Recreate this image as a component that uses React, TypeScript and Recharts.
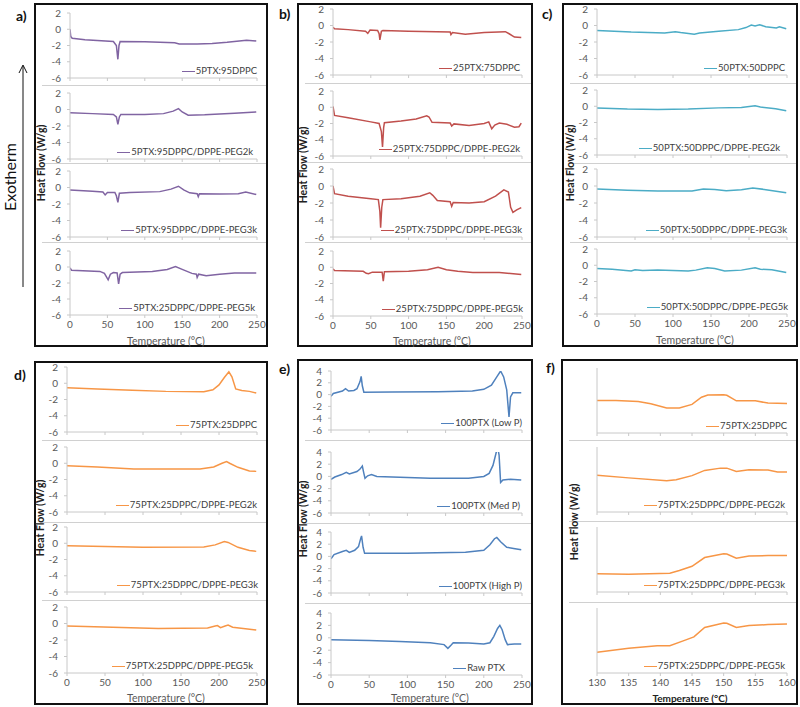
import React from 'react';
import { LineChart, Line, XAxis, YAxis } from 'recharts';

type Pt = [number, number];

// ---- panel a : 5PTX ----
const a1: Pt[] = [[0,0],[1,-0.9],[3,-1.1],[20,-1.3],[58,-1.5],[62,-2],[64,-3.7],[65.5,-2],[67,-1.5],[100,-1.55],[140,-1.65],[146,-1.8],[170,-1.8],[190,-1.75],[210,-1.6],[236,-1.35],[249,-1.45]];
const a2: Pt[] = [[0,-0.4],[30,-0.5],[58,-0.6],[62,-0.9],[64,-1.8],[66,-0.9],[68,-0.6],[100,-0.6],[125,-0.5],[138,-0.2],[145,0.1],[150,-0.3],[158,-0.7],[180,-0.65],[220,-0.45],[249,-0.3]];
const a3: Pt[] = [[0,-0.3],[30,-0.45],[44,-0.55],[47,-0.9],[50,-0.6],[60,-0.6],[62,-1],[64,-1.8],[66,-0.7],[80,-0.6],[120,-0.5],[135,-0.2],[145,0.15],[152,-0.3],[160,-0.65],[170,-0.75],[171.5,-1.1],[173,-0.75],[200,-0.8],[225,-0.75],[235,-0.55],[249,-0.85]];
const a4: Pt[] = [[0,-0.1],[2,-0.4],[40,-0.55],[46,-0.8],[51,-1.6],[54,-0.9],[58,-0.7],[63,-0.75],[65,-2.1],[67,-0.9],[70,-0.7],[110,-0.55],[130,-0.3],[141,0.05],[150,-0.3],[163,-0.8],[169,-0.9],[170,-1.3],[172,-0.9],[182,-1.1],[200,-0.9],[220,-0.75],[249,-0.75]];
const legendA = ['5PTX:95DPPC', '5PTX:95DPPC/DPPE-PEG2k', '5PTX:95DPPC/DPPE-PEG3k', '5PTX:25DPPC/DPPE-PEG5k'];

// ---- panel b : 25PTX ----
const b1: Pt[] = [[0,-0.2],[2,-0.4],[20,-0.5],[43,-0.7],[46,-0.95],[49,-0.55],[59,-0.6],[61,-1],[62,-1.75],[64,-0.7],[66,-0.6],[100,-0.7],[155,-0.8],[156,-1.1],[158,-0.85],[175,-1.05],[200,-0.85],[228,-0.75],[233,-1],[240,-1.4],[249,-1.45]];
const b2: Pt[] = [[0,0.1],[2,-1],[20,-1.3],[50,-1.8],[61,-2],[64,-3],[65.5,-4.9],[67,-2.5],[68,-1.9],[90,-1.7],[110,-1.45],[124,-1.05],[127,-1.2],[131,-1.85],[155,-1.95],[157,-2.3],[160,-2.05],[180,-2.25],[200,-2.0],[206,-1.8],[210,-2.65],[214,-2.2],[220,-1.95],[230,-2.1],[240,-2.45],[246,-2.4],[249,-1.95]];
const b3: Pt[] = [[0,0],[2,-0.9],[20,-1.2],[50,-1.5],[60,-1.6],[62,-3],[63,-4.9],[64.5,-2.5],[66,-1.6],[90,-1.5],[115,-1.2],[128,-0.8],[132,-1.1],[138,-1.7],[155,-1.85],[157,-2.4],[159,-1.95],[180,-2.0],[200,-1.85],[215,-1.2],[226,-0.45],[232,-0.7],[235,-2.5],[238,-3.1],[243,-2.8],[249,-2.55]];
const b4: Pt[] = [[0,-0.2],[2,-0.4],[40,-0.5],[44,-0.75],[47,-0.8],[52,-0.6],[65,-0.6],[66.5,-1.7],[68,-0.55],[100,-0.5],[125,-0.3],[139,0],[150,-0.3],[165,-0.5],[185,-0.65],[220,-0.65],[249,-0.9]];
const legendB = ['25PTX:75DPPC', '25PTX:75DPPC/DPPE-PEG2k', '25PTX:75DPPC/DPPE-PEG3k', '25PTX:75DPPC/DPPE-PEG5k'];

// ---- panel c : 50PTX ----
const c1: Pt[] = [[0,-0.6],[45,-0.8],[89,-0.9],[103,-0.75],[110,-0.85],[128,-1.05],[135,-0.9],[160,-0.7],[186,-0.5],[196,-0.25],[203,0.05],[208,-0.05],[214,0.1],[222,-0.15],[236,-0.3],[240,-0.15],[249,-0.4]];
const c2: Pt[] = [[0,-0.2],[40,-0.35],[80,-0.4],[120,-0.35],[160,-0.2],[190,-0.15],[208,0.05],[215,-0.1],[235,-0.3],[249,-0.55]];
const c3: Pt[] = [[0,-0.35],[40,-0.5],[80,-0.6],[125,-0.6],[140,-0.35],[155,-0.4],[170,-0.55],[190,-0.45],[205,-0.25],[220,-0.4],[249,-0.8]];
const c4: Pt[] = [[0,-0.4],[20,-0.5],[45,-0.7],[50,-0.55],[60,-0.65],[80,-0.6],[120,-0.7],[130,-0.6],[145,-0.3],[155,-0.4],[168,-0.7],[190,-0.6],[208,-0.3],[215,-0.5],[230,-0.55],[249,-0.9]];
const legendC = ['50PTX:50DPPC', '50PTX:50DPPC/DPPE-PEG2k', '50PTX:50DPPC/DPPE-PEG3k', '50PTX:50DPPC/DPPE-PEG5k'];

// ---- panel d : 75PTX ----
const d1: Pt[] = [[0,-0.55],[40,-0.7],[86,-0.85],[130,-1.0],[180,-1.05],[192,-0.8],[200,-0.2],[207,0.7],[213,1.4],[217,0.8],[222,-0.7],[230,-0.9],[240,-1.0],[249,-1.2]];
const d2: Pt[] = [[0,-0.3],[40,-0.45],[88,-0.7],[175,-0.7],[193,-0.45],[204,0.0],[210,0.2],[214,0.0],[225,-0.5],[240,-0.95],[249,-1.0]];
const d3: Pt[] = [[0,-0.3],[50,-0.4],[100,-0.5],[180,-0.45],[195,-0.2],[207,0.2],[212,0.1],[225,-0.5],[240,-0.9],[249,-1.0]];
const d4: Pt[] = [[0,-0.3],[60,-0.45],[120,-0.6],[185,-0.55],[195,-0.3],[198,-0.25],[202,-0.5],[208,-0.3],[212,-0.2],[218,-0.45],[249,-0.8]];
const legendD = ['75PTX:25DPPC', '75PTX:25DPPC/DPPE-PEG2k', '75PTX:25DPPC/DPPE-PEG3k', '75PTX:25DPPC/DPPE-PEG5k'];

// ---- panel e : 100PTX ----
const e1: Pt[] = [[0,-0.3],[3,0.2],[15,0.6],[19,1.0],[23,0.6],[30,0.7],[34,1.0],[38,2.2],[39.5,3.1],[41,1.5],[43,0.4],[80,0.45],[140,0.5],[185,0.6],[200,0.9],[210,1.6],[217,3.0],[222,4.0],[226,3.0],[230,0.8],[233,-3.8],[235,-0.4],[238,0.3],[249,0.3]];
const e2: Pt[] = [[0,-0.5],[5,-0.1],[14,0.3],[20,0.65],[24,0.4],[34,0.8],[38,1.2],[41,1.7],[43,0.5],[44.5,-0.3],[48,0.1],[53,0.3],[60,0],[80,-0.1],[130,-0.3],[180,-0.3],[200,0.0],[207,0.5],[212,1.8],[216,3.8],[218,4.9],[220,3.5],[222,-1.0],[225,-0.6],[235,-0.45],[249,-0.6]];
const e3: Pt[] = [[0,-0.4],[4,0.3],[15,0.8],[20,1.0],[24,0.65],[31,1.0],[36,1.6],[39,3.0],[40,3.35],[42,1.5],[44,0.5],[100,0.5],[176,0.7],[200,1.0],[208,1.9],[214,2.9],[217,3.1],[222,2.4],[230,1.5],[239,1.3],[249,1.1]];
const e4: Pt[] = [[0,-0.3],[50,-0.45],[90,-0.6],[130,-0.8],[148,-1.1],[153,-1.7],[157,-1.2],[160,-0.8],[180,-0.85],[200,-1.0],[208,-0.8],[213,0.2],[218,1.5],[221,2.0],[224,1.3],[228,-0.3],[231,-1.1],[240,-1.0],[249,-1.0]];
const legendE = ['100PTX (Low P)', '100PTX (Med P)', '100PTX (High P)', 'Raw PTX'];

// ---- panel f : 75PTX zoom 130-160 °C (arbitrary units) ----
const f1: Pt[] = [[130,5.0],[133,5.0],[136.5,4.85],[138.5,4.5],[141,3.85],[143,3.85],[145,4.4],[146.5,5.5],[147.5,5.85],[150,5.9],[150.5,5.8],[152,4.95],[155,4.95],[157,4.6],[160,4.55]];
const f2: Pt[] = [[130,5.65],[135,5.25],[141,4.8],[142.5,4.95],[145,5.6],[147,6.4],[149.5,6.75],[150.5,6.75],[152,6.25],[154,6.5],[157,6.45],[158.5,6.15],[160,6.15]];
const f3: Pt[] = [[130,2.8],[135,2.75],[141.5,2.9],[143,3.3],[145,3.95],[147,5.3],[150,5.9],[150.5,5.85],[152,5.2],[154,5.55],[157,5.6],[160,5.6]];
const f4: Pt[] = [[130,3.2],[135,3.8],[139.5,4.2],[141.5,4.2],[143.5,4.9],[145.3,5.55],[147,7.0],[150,7.7],[150.5,7.65],[152,7.0],[154,7.3],[157,7.45],[160,7.55]];
const legendF = legendD;

const tempTicks = [0, 50, 100, 150, 200, 250];
const zoomTicks = [130, 135, 140, 145, 150, 155, 160];
const hfTicks = [-6, -4, -2, 0, 2];
const hfTicksE = [-6, -4, -2, 0, 2, 4];

const FONT = 'Lato, "Open Sans", sans-serif';
const AXIS = '#c8c8c8';
const TICK = '#595959';

interface PanelCfg {
  letter: string;
  letterPos: [number, number];
  box: [number, number, number, number]; // l, t, r, b
  x0: number;
  x1: number;
  rows: [number, number][];
  seps: number[];
  curves: Pt[][];
  legends: string[];
  legendRight: number[];
  color: string;
  xDomain: [number, number];
  xTicks: number[];
  yDomain: [number, number];
  yTicks: number[] | null;
  hfPos: [number, number];
  tempPos: [number, number];
  boldTemp?: boolean;
}

const panels: PanelCfg[] = [
  { letter: 'a)', letterPos: [16, 21], box: [34, 3, 268, 347], x0: 70, x1: 257,
    rows: [[13, 78], [93, 159], [171, 237], [251, 315]], seps: [85, 163, 242],
    curves: [a1, a2, a3, a4], legends: legendA, legendRight: [257, 253, 257, 255], color: '#8064A2',
    xDomain: [0, 250], xTicks: tempTicks, yDomain: [-6, 2], yTicks: hfTicks, hfPos: [41, 163], tempPos: [166, 341] },
  { letter: 'b)', letterPos: [279, 19], box: [297, 3, 533, 347], x0: 333, x1: 522,
    rows: [[9, 75], [91, 156], [169, 237], [251, 316]], seps: [83, 162, 242],
    curves: [b1, b2, b3, b4], legends: legendB, legendRight: [520, 520, 522, 523], color: '#C0504D',
    xDomain: [0, 250], xTicks: tempTicks, yDomain: [-6, 2], yTicks: hfTicks, hfPos: [303, 165], tempPos: [432, 341] },
  { letter: 'c)', letterPos: [542, 19], box: [562, 3, 798, 347], x0: 597, x1: 787,
    rows: [[9, 75], [90, 155], [169, 237], [249, 314]], seps: [83, 163, 242],
    curves: [c1, c2, c3, c4], legends: legendC, legendRight: [785, 780, 787, 788], color: '#4BACC6',
    xDomain: [0, 250], xTicks: tempTicks, yDomain: [-6, 2], yTicks: hfTicks, hfPos: [570, 163], tempPos: [695, 340] },
  { letter: 'd)', letterPos: [14, 380], box: [34, 361, 268, 705], x0: 67, x1: 257,
    rows: [[367, 432], [447, 512], [527, 592], [607, 673]], seps: [440, 522, 600],
    curves: [d1, d2, d3, d4], legends: legendD, legendRight: [257, 257, 258, 253], color: '#F79646',
    xDomain: [0, 250], xTicks: tempTicks, yDomain: [-6, 2], yTicks: hfTicks, hfPos: [40, 518], tempPos: [166, 698] },
  { letter: 'e)', letterPos: [279, 374], box: [297, 359, 533, 705], x0: 331, x1: 522,
    rows: [[371, 430], [452, 513], [532, 593], [613, 675]], seps: [440, 523, 603],
    curves: [e1, e2, e3, e4], legends: legendE, legendRight: [522, 520, 522, 505], color: '#4F81BD',
    xDomain: [0, 250], xTicks: tempTicks, yDomain: [-6, 4], yTicks: hfTicksE, hfPos: [303, 519], tempPos: [430, 698] },
  { letter: 'f)', letterPos: [546, 373], box: [561, 359, 798, 705], x0: 597, x1: 787,
    rows: [[368, 433], [447, 512], [527, 592], [608, 673]], seps: [440, 521, 602],
    curves: [f1, f2, f3, f4], legends: legendF, legendRight: [787, 785, 785, 785], color: '#F79646',
    xDomain: [130, 160], xTicks: zoomTicks, yDomain: [0, 10], yTicks: null, hfPos: [574, 522], tempPos: [690, 698], boldTemp: true },
];

const YW = 40;

function SubPlot({ p, idx }: { p: PanelCfg; idx: number }) {
  const [yTop, yBot] = p.rows[idx];
  const last = idx === p.rows.length - 1;
  const xh = last ? 18 : 6;
  const pw = p.x1 - p.x0;
  const ph = yBot - yTop;
  const data = p.curves[idx].map(([x, y]) => ({ x, y }));
  return (
    <div style={{ position: 'absolute', left: p.x0 - YW, top: yTop - 5 }}>
      <LineChart width={pw + YW + 10} height={ph + 5 + xh} margin={{ top: 5, right: 10, bottom: 0, left: 0 }}>
        <XAxis
          type="number"
          dataKey="x"
          domain={p.xDomain}
          ticks={p.xTicks}
          height={xh}
          interval={0}
          stroke={AXIS}
          tickSize={3}
          tickMargin={3}
          tick={{ fontSize: 10, fill: TICK, fontFamily: FONT }}
          tickFormatter={(v: number) => (last ? String(v) : '')}
          allowDataOverflow
        />
        <YAxis
          type="number"
          domain={p.yDomain}
          ticks={p.yTicks ?? []}
          width={YW}
          interval={0}
          stroke={AXIS}
          tickSize={p.yTicks ? 3 : 0}
          tickMargin={6}
          tick={p.yTicks ? { fontSize: 10, fill: TICK, fontFamily: FONT } : false}
          allowDataOverflow
        />
        <Line
          data={data}
          dataKey="y"
          type="linear"
          stroke={p.color}
          strokeWidth={1.5}
          dot={false}
          isAnimationActive={false}
        />
      </LineChart>
    </div>
  );
}

function LegendTag({ text, color, right, y }: { text: string; color: string; right: number; y: number }) {
  return (
    <div style={{ position: 'absolute', left: right - 220, width: 220, top: y - 6, height: 12, textAlign: 'right',
      fontFamily: FONT, fontSize: 9.5, lineHeight: '12px', color: '#404040', whiteSpace: 'nowrap' }}>
      <span style={{ display: 'inline-block', width: 13, height: 1.5, background: color, verticalAlign: 'middle', marginRight: 1 }} />
      {text}
    </div>
  );
}

export default function App() {
  return (
    <div style={{ position: 'absolute', left: 0, top: 0, width: 800, height: 707, background: '#fff', overflow: 'hidden' }}>
      {panels.map((p) => (
        <React.Fragment key={p.letter}>
          <div style={{ position: 'absolute', left: p.box[0], top: p.box[1], width: p.box[2] - p.box[0] - 4,
            height: p.box[3] - p.box[1] - 4, border: '2px solid #111' }} />
          {p.seps.map((s) => (
            <div key={s} style={{ position: 'absolute', left: p.box[0] + 8, top: s, width: p.box[2] - p.box[0] - 10,
              height: 1, background: '#d0d0d0' }} />
          ))}
          {p.rows.map((_, i) => <SubPlot key={i} p={p} idx={i} />)}
          {p.legends.map((t, i) => (
            <LegendTag key={t + i} text={t} color={p.color} right={p.legendRight[i]} y={p.rows[i][1] - 7} />
          ))}
        </React.Fragment>
      ))}
      <svg width={800} height={707} style={{ position: 'absolute', left: 0, top: 0, pointerEvents: 'none' }}>
        {panels.map((p) => (
          <g key={p.letter} fontFamily={FONT}>
            <text x={p.letterPos[0]} y={p.letterPos[1]} fontSize={14} fontWeight="bold" fill="#111">{p.letter}</text>
            <text x={p.hfPos[0]} y={p.hfPos[1]} transform={`rotate(-90, ${p.hfPos[0]}, ${p.hfPos[1]})`}
              textAnchor="middle" dominantBaseline="central" fontSize={10.5} fontWeight="bold" fill="#222">Heat Flow (W/g)</text>
            <text x={p.tempPos[0]} y={p.tempPos[1]} textAnchor="middle" dominantBaseline="central"
              fontSize={p.boldTemp ? 10 : 10.5} fontWeight={p.boldTemp ? 'bold' : 'normal'} fill={p.boldTemp ? '#222' : TICK}>
              Temperature (°C)
            </text>
          </g>
        ))}
        <text x={9} y={177} transform="rotate(-90, 9, 177)" textAnchor="middle" dominantBaseline="central"
          fontFamily={FONT} fontSize={16} fill="#111">Exotherm</text>
        <line x1={23} y1={287} x2={23} y2={66} stroke="#111" strokeWidth={1} />
        <polyline points="19,73 23,65 27,73" fill="none" stroke="#111" strokeWidth={1} />
      </svg>
    </div>
  );
}
